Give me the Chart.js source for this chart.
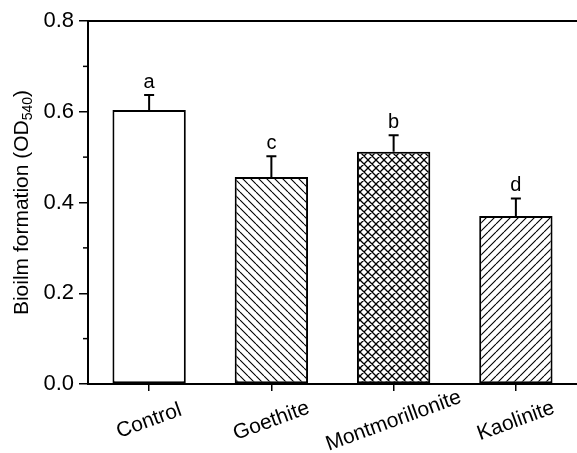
<!DOCTYPE html>
<html lang="en">
<head>
    <meta charset="UTF-8">
    <title>Biofilm formation</title>
    <script src="https://cdn.jsdelivr.net/npm/chart.js"></script>
    <style>
        html, body { margin: 0; padding: 0; background: #fff; }
        #wrap { width: 577px; height: 453px; }
    </style>
</head>
<body>
    <div id="wrap"><canvas id="grafico"></canvas></div>

    <script>
        // dados
        const categorias = ["Control", "Goethite", "Montmorillonite", "Kaolinite"];
        const valores = [0.604, 0.456, 0.512, 0.370];
        const erros = [0.033, 0.046, 0.036, 0.039];
        const letras = ["a", "c", "b", "d"];
        const ticksY = [0, 0.2, 0.4, 0.6, 0.8];
        const ticksMenores = [0.1, 0.3, 0.5, 0.7];

        const FONTE = "'Liberation Sans', Arial, sans-serif";

        // hachuras
        function hachura(tipo) {
            const s = 8;
            const c = document.createElement('canvas');
            c.width = s; c.height = s;
            const ctx = c.getContext('2d');
            ctx.fillStyle = '#fff';
            ctx.fillRect(0, 0, s, s);
            ctx.strokeStyle = '#000';
            ctx.lineWidth = tipo === 'cruz' ? 1.3 : 1.1;
            ctx.beginPath();
            for (const k of [-s, 0, s]) {
                if (tipo === 'desce' || tipo === 'cruz') {
                    ctx.moveTo(k, 0); ctx.lineTo(k + s, s);
                }
                if (tipo === 'sobe' || tipo === 'cruz') {
                    ctx.moveTo(k, s); ctx.lineTo(k + s, 0);
                }
            }
            ctx.stroke();
            return ctx.createPattern(c, 'repeat');
        }

        const fundos = ['#ffffff', hachura('desce'), hachura('cruz'), hachura('sobe')];

        const extras = {
            id: 'extras',
            afterDatasetsDraw(chart) {
                const ctx = chart.ctx;
                const x = chart.scales.x, y = chart.scales.y;
                const area = chart.chartArea;
                ctx.save();
                ctx.strokeStyle = '#000';

                // linha de cima
                ctx.lineWidth = 2;
                ctx.beginPath();
                ctx.moveTo(area.left, area.top);
                ctx.lineTo(area.right, area.top);
                ctx.stroke();

                // ticks menores
                ctx.lineWidth = 1.5;
                ticksMenores.forEach(v => {
                    const py = y.getPixelForValue(v);
                    ctx.beginPath();
                    ctx.moveTo(area.left - 5, py);
                    ctx.lineTo(area.left, py);
                    ctx.stroke();
                });

                // barras de erro e letras
                ctx.fillStyle = '#000';
                ctx.font = '20px ' + FONTE;
                ctx.textAlign = 'center';
                ctx.textBaseline = 'alphabetic';
                valores.forEach((v, i) => {
                    const px = x.getPixelForValue(i);
                    const y0 = y.getPixelForValue(v);
                    const y1 = y.getPixelForValue(v + erros[i]);
                    ctx.lineWidth = 2;
                    ctx.beginPath();
                    ctx.moveTo(px, y0);
                    ctx.lineTo(px, y1);
                    ctx.moveTo(px - 5, y1);
                    ctx.lineTo(px + 5, y1);
                    ctx.stroke();
                    ctx.fillText(letras[i], px, y1 - 7);
                });

                // rótulos do eixo x, girados
                ctx.font = '21px ' + FONTE;
                ctx.textBaseline = 'middle';
                categorias.forEach((c, i) => {
                    const px = x.getPixelForValue(i);
                    ctx.save();
                    ctx.translate(px, area.bottom + 37);
                    ctx.rotate(-20 * Math.PI / 180);
                    ctx.fillText(c, 0, 0);
                    ctx.restore();
                });

                // título do eixo y com subscrito
                const principal = 'Bioilm formation (OD';
                const sub = '540';
                const fim = ')';
                ctx.textAlign = 'left';
                ctx.textBaseline = 'alphabetic';
                ctx.font = '21px ' + FONTE;
                const w1 = ctx.measureText(principal).width;
                const w3 = ctx.measureText(fim).width;
                ctx.font = '14px ' + FONTE;
                const w2 = ctx.measureText(sub).width;
                const total = w1 + w2 + w3;
                const cy = (area.top + area.bottom) / 2;
                ctx.translate(28, cy + total / 2);
                ctx.rotate(-Math.PI / 2);
                ctx.font = '21px ' + FONTE;
                ctx.fillText(principal, 0, 0);
                ctx.font = '14px ' + FONTE;
                ctx.fillText(sub, w1, 4);
                ctx.font = '21px ' + FONTE;
                ctx.fillText(fim, w1 + w2, 0);
                ctx.restore();
            }
        };

        new Chart(document.getElementById('grafico'), {
            type: 'bar',
            data: {
                labels: categorias,
                datasets: [{
                    data: valores,
                    backgroundColor: fundos,
                    borderColor: '#000',
                    borderWidth: 2,
                    borderSkipped: false,
                    barPercentage: 0.6,
                    categoryPercentage: 1
                }]
            },
            options: {
                responsive: true,
                maintainAspectRatio: false,
                animation: false,
                layout: { padding: { top: 21, right: 0, left: 0, bottom: 0 } },
                plugins: { legend: { display: false }, tooltip: { enabled: false } },
                scales: {
                    x: {
                        grid: {
                            offset: false,
                            drawOnChartArea: false,
                            drawTicks: true,
                            tickLength: 7,
                            color: '#000',
                            lineWidth: 1.5
                        },
                        border: { color: '#000', width: 2 },
                        ticks: { display: false },
                        afterFit(scale) { scale.height = 69; }
                    },
                    y: {
                        min: 0,
                        max: 0.8,
                        afterBuildTicks(scale) {
                            scale.ticks = ticksY.map(v => ({ value: v }));
                        },
                        grid: {
                            drawOnChartArea: false,
                            drawTicks: true,
                            tickLength: 9,
                            color: '#000',
                            lineWidth: 1.5
                        },
                        border: { color: '#000', width: 2 },
                        ticks: {
                            color: '#000',
                            padding: 5,
                            font: { size: 22, family: FONTE },
                            callback: v => v.toFixed(1)
                        },
                        afterFit(scale) { scale.width = 88; }
                    }
                }
            },
            plugins: [extras]
        });
    </script>
</body>
</html>
